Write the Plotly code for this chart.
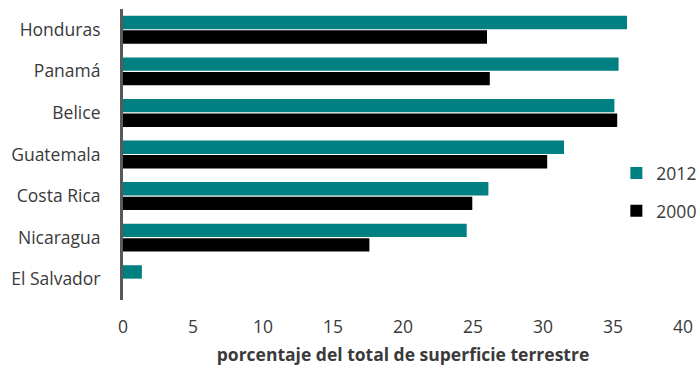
import plotly.graph_objects as go

# Forest cover by country, share of total land area (%)
countries = ["Honduras", "Panamá", "Belice", "Guatemala", "Costa Rica", "Nicaragua", "El Salvador"]
values_2012 = [36.0, 35.4, 35.1, 31.5, 26.1, 24.55, 1.35]
values_2000 = [26.0, 26.2, 35.3, 30.3, 24.95, 17.6, None]
x_ticks = [0, 5, 10, 15, 20, 25, 30, 35, 40]

TEAL = "#008080"
TEXT = "#3a3a3a"
FONT = "Open Sans"

fig = go.Figure()
fig.add_trace(go.Bar(
    y=countries, x=values_2012, name="2012", orientation="h",
    marker=dict(color=TEAL, line=dict(width=0)), legend="legend",
))
fig.add_trace(go.Bar(
    y=countries, x=values_2000, name="2000", orientation="h",
    marker=dict(color="#000000", line=dict(width=0)), legend="legend2",
))

legend_style = dict(
    xanchor="left", yanchor="middle", bgcolor="rgba(0,0,0,0)",
    font=dict(family=FONT, size=17.5, color=TEXT), itemwidth=30,
)

fig.update_layout(
    width=697, height=372,
    margin=dict(l=123, r=14, t=9, b=72, autoexpand=False),
    paper_bgcolor="white", plot_bgcolor="white",
    barmode="group", bargap=0.3, bargroupgap=0.08,
    font=dict(family=FONT, size=17.5, color=TEXT),
    showlegend=True,
    legend=dict(x=0.881, y=0.436, **legend_style),
    legend2=dict(x=0.881, y=0.306, **legend_style),
    xaxis=dict(
        range=[0, 40], tickvals=x_ticks, ticktext=[str(v) for v in x_ticks],
        showgrid=False, zeroline=False, showline=False,
        tickfont=dict(family=FONT, size=17.5, color=TEXT),
        ticklabelstandoff=14,
        title=dict(text="<b>porcentaje del total de superficie terrestre</b>",
                   font=dict(family=FONT, size=17.5, color=TEXT), standoff=12),
    ),
    yaxis=dict(
        autorange="reversed", showgrid=False, zeroline=False,
        showline=True, linecolor="#595959", linewidth=3,
        tickfont=dict(family=FONT, size=17.5, color=TEXT),
        ticklabelstandoff=16,
    ),
)

fig.write_html("out.html")
